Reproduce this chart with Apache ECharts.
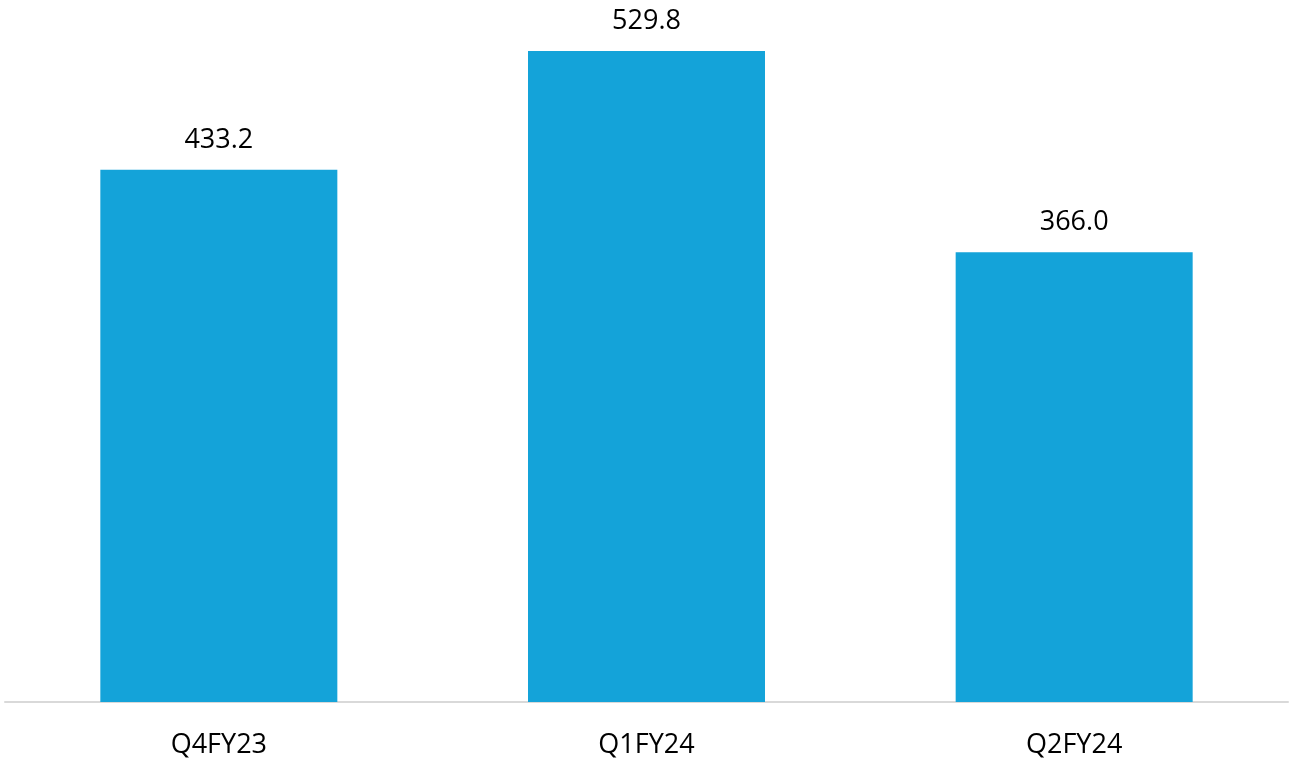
<!DOCTYPE html>
<html>
<head>
<meta charset="utf-8">
<script src="https://cdn.jsdelivr.net/npm/echarts@6/dist/echarts.min.js"></script>
<style>
  html, body { margin: 0; padding: 0; background: #ffffff; }
  #chart { width: 1289px; height: 759px; }
</style>
</head>
<body>
<div id="chart"></div>
<script>
// Quarterly values
const quarters = ['Q4FY23', 'Q1FY24', 'Q2FY24'];
const values = [433.2, 529.8, 366.0];

const chart = echarts.init(document.getElementById('chart'), null, { renderer: 'canvas' });
const fontFamily = '"Open Sans", "Noto Sans", sans-serif';

chart.setOption({
  animation: false,
  backgroundColor: '#ffffff',
  grid: { left: 5, right: 1, top: 51, bottom: 57, containLabel: false },
  xAxis: {
    type: 'category',
    data: quarters,
    axisLine: { show: true, lineStyle: { color: '#d9d9d9', width: 2 } },
    axisTick: { show: false },
    axisLabel: { color: '#000000', fontSize: 27, fontFamily: fontFamily, margin: 30 }
  },
  yAxis: {
    type: 'value',
    min: 0,
    max: 529.8,
    show: false,
    splitLine: { show: false }
  },
  series: [{
    type: 'bar',
    data: values,
    barWidth: 237,
    itemStyle: { color: '#14A3D9' },
    label: {
      show: true,
      position: 'top',
      distance: 16,
      color: '#000000',
      fontSize: 27,
      fontFamily: fontFamily,
      formatter: p => p.value.toFixed(1)
    }
  }]
});
</script>
</body>
</html>
